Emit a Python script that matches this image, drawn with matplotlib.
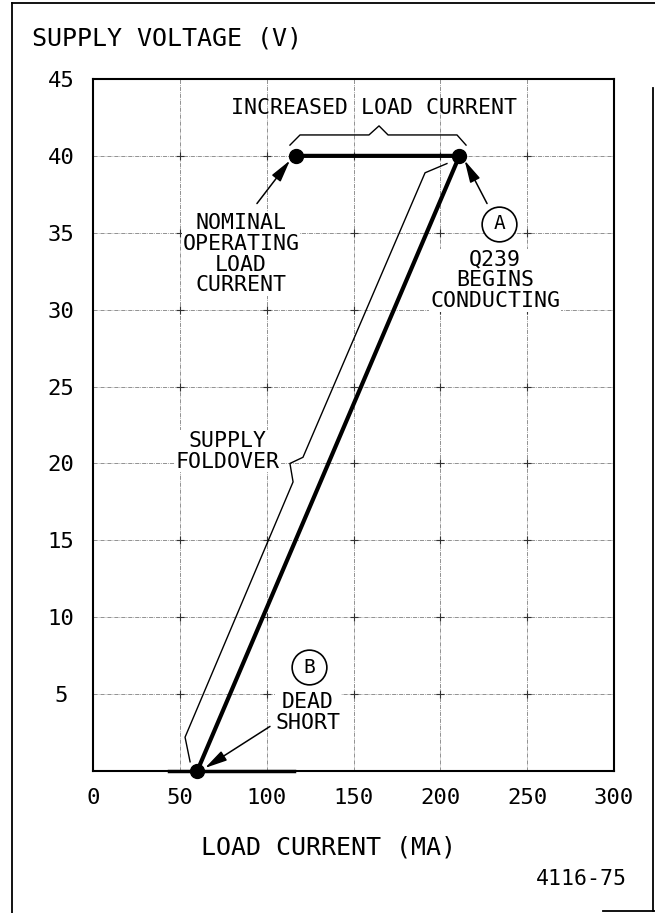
import numpy as np
import matplotlib.pyplot as plt
from matplotlib.lines import Line2D

plt.rcParams['font.family'] = ['DejaVu Sans Mono', 'DejaVu Sans']

# data (mA, V)
corriente_nominal = 117
corriente_q239 = 211
corriente_corto = 60
v_nominal = 40

linea_x = [corriente_nominal, corriente_q239, corriente_corto]
linea_y = [v_nominal, v_nominal, 0]

puntos_x = [corriente_nominal, corriente_q239, corriente_corto]
puntos_y = [v_nominal, v_nominal, 0]

# bracket "supply foldover"
fold_x = [203.8, 191.2, 120.9, 113.4, 115.2, 53.0, 55.9]
fold_y = [39.5, 38.9, 20.4, 20.0, 18.8, 2.2, 0.6]

# bracket "increased load current"
llave_x = [113.4, 119.2, 158.9, 164.7, 169.9, 209.6, 214.8]
llave_y = [40.7, 41.36, 41.36, 41.95, 41.36, 41.36, 40.7]

# thick segment on the zero line
base_x = [44, 116]
base_y = [0, 0]

xticks = [0, 50, 100, 150, 200, 250, 300]
yticks = [5, 10, 15, 20, 25, 30, 35, 40, 45]

fig = plt.figure(figsize=(6.55, 9.13), dpi=100)
ax = fig.add_axes([0.142, 0.1555, 0.7954, 0.758])

ax.set_xlim(0, 300)
ax.set_ylim(0, 45)

# grid
estilo_grid = (0, (6, 1.5, 1, 1.5))
for xv in xticks[1:-1]:
    ax.axvline(xv, color='#666666', lw=0.5, ls=estilo_grid, zorder=1)
for yv in yticks[:-1]:
    ax.axhline(yv, color='#666666', lw=0.5, ls=estilo_grid, zorder=1)
gx, gy = np.meshgrid(xticks[1:-1], yticks[:-1])
ax.plot(gx.ravel(), gy.ravel(), '+', color='#333333', ms=6, mew=0.8, zorder=1)

# curve
ax.plot(linea_x, linea_y, color='black', lw=3, solid_capstyle='round', zorder=3)
ax.plot(puntos_x, puntos_y, 'o', color='black', ms=10, zorder=4, clip_on=False)
ax.plot(base_x, base_y, color='black', lw=2.5, zorder=3, clip_on=False)

# brackets
ax.plot(fold_x, fold_y, color='black', lw=1.0, zorder=3)
ax.plot(llave_x, llave_y, color='black', lw=1.0, zorder=3)

tam = 15.5
flecha = dict(arrowstyle='-|>,head_length=0.9,head_width=0.22', color='black',
              lw=1.1, shrinkA=0, shrinkB=0, mutation_scale=15)
caja = dict(fc='white', ec='none', pad=0.5)

ax.text(162, 43.1, 'INCREASED LOAD CURRENT', fontsize=tam, ha='center', va='center')

ax.annotate('', xy=(113.4, 39.7), xytext=(94.4, 36.9), arrowprops=flecha)
ax.text(85.2, 33.6, 'NOMINAL\nOPERATING\nLOAD\nCURRENT', fontsize=tam, ha='center',
        va='center', linespacing=1.05, bbox=caja)

ax.annotate('', xy=(214, 39.7), xytext=(226.9, 36.9), arrowprops=flecha)
ax.plot([233.8], [35.6], 'o', mfc='white', mec='black', ms=25, mew=1.2, zorder=4)
ax.text(233.8, 35.6, 'A', fontsize=14, ha='center', va='center', zorder=5)
ax.text(231.5, 31.9, 'Q239\nBEGINS\nCONDUCTING', fontsize=tam, ha='center',
        va='center', linespacing=1.05, bbox=caja)

ax.text(77.7, 20.8, 'SUPPLY\nFOLDOVER', fontsize=tam, ha='center', va='center',
        linespacing=1.05, bbox=caja)

ax.annotate('', xy=(64.5, 0.2), xytext=(101.9, 2.9), arrowprops=flecha)
ax.plot([124.4], [6.75], 'o', mfc='white', mec='black', ms=25, mew=1.2, zorder=4)
ax.text(124.4, 6.75, 'B', fontsize=14, ha='center', va='center', zorder=5)
ax.text(123.8, 3.83, 'DEAD\nSHORT', fontsize=tam, ha='center', va='center',
        linespacing=1.05, bbox=caja)

# axes
for s in ax.spines.values():
    s.set_linewidth(1.5)
ax.set_xticks(xticks)
ax.set_xticklabels([str(v) for v in xticks])
ax.set_yticks(yticks)
ax.set_yticklabels([str(v) for v in yticks], ha='center')
ax.tick_params(axis='both', length=0, labelsize=16)
ax.tick_params(axis='x', pad=12)
ax.tick_params(axis='y', pad=23)

fig.text(0.049, 0.958, 'SUPPLY VOLTAGE (V)', fontsize=18, ha='left', va='center')
fig.text(0.501, 0.072, 'LOAD CURRENT (MA)', fontsize=18, ha='center', va='center')
fig.text(0.957, 0.037, '4116-75', fontsize=15.5, ha='right', va='center')

# page frame
H, W = 913.0, 655.0
marco = [
    ([12 / W, 12 / W], [1 - 3 / H, 0]),
    ([12 / W, 1], [1 - 3 / H, 1 - 3 / H]),
    ([653 / W, 653 / W], [1 - 88 / H, 1 - 911 / H]),
    ([603 / W, 1], [1 - 911 / H, 1 - 911 / H]),
]
for mx, my in marco:
    fig.add_artist(Line2D(mx, my, transform=fig.transFigure, color='black', lw=1.3))

fig.savefig('out.png', dpi=100, facecolor='white')
